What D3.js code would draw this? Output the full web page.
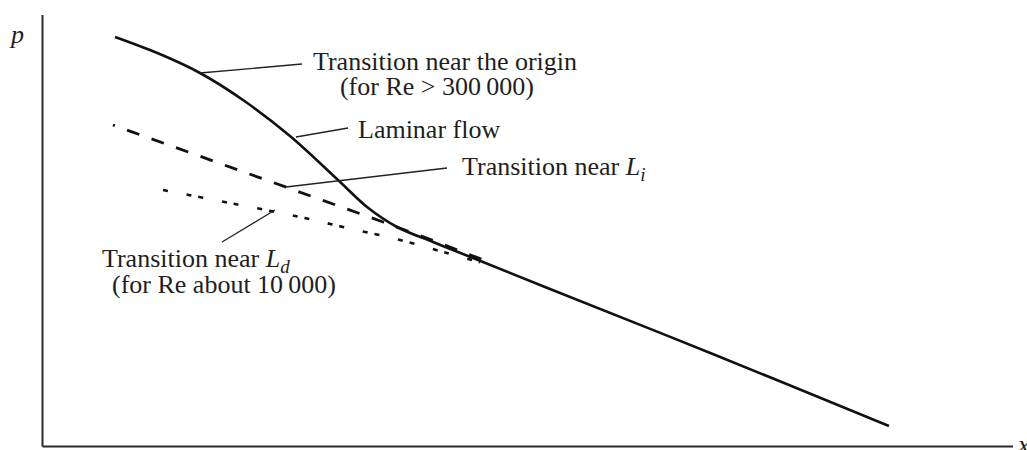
<!DOCTYPE html>
<html>
<head>
<meta charset="utf-8">
<script src="https://cdn.jsdelivr.net/npm/d3@7"></script>
<style>
  html, body { margin: 0; padding: 0; background: #fff; }
  svg { display: block; }
  text { font-family: "Liberation Serif", "DejaVu Serif", serif; fill: #1e1e1e; }
</style>
</head>
<body>
<div id="chart"></div>
<script>
// ---- Data (abstract units: x and y both 0..100 on the schematic axes) ----
const solidX = [7.47, 11.90, 16.23, 20.66, 25.50, 30.45, 33.44, 36.53, 40.24, 44.36, 52.29, 69.00, 87.22];
const solidY = [94.90, 91.12, 86.56, 80.30, 71.96, 61.76, 55.50, 50.87, 47.39, 43.68, 36.50, 21.50, 4.75];

const dashedX = [7.26, 35.09, 40.24, 46.11];
const dashedY = [74.51, 52.03, 47.74, 42.64];

const dottedX = [12.42, 19.32, 26.53, 30.96, 36.84, 41.68, 45.08];
const dottedY = [59.44, 56.43, 53.19, 50.87, 47.86, 44.84, 42.70];

// leader lines: [x1, y1, x2, y2]
const leaderNames = ["origin", "laminar", "Li", "Ld"];
const leaderX1 = [16.23, 26.12, 25.09, 23.96];
const leaderY1 = [86.56, 71.73, 60.14, 54.81];
const leaderX2 = [26.74, 31.48, 41.68, 18.50];
const leaderY2 = [88.64, 73.81, 64.54, 47.39];

// labels
const labelText = ["Transition near the origin", "(for Re > 300\u2009000)", "Laminar flow", "Transition near ", "Transition near ", "(for Re about 10\u2009000)"];
const labelSub  = [null, null, null, "i", "d", null];
const labelX = [27.87, 30.65, 32.51, 43.23, 6.13, 7.16];
const labelY = [87.25, 81.46, 71.49, 62.92, 41.60, 35.57];

const axisYLabel = "p";
const axisXLabel = "x";

// ---- Layout ----
const W = 1027, H = 450;
const x = d3.scaleLinear().domain([0, 100]).range([42.5, 1013]);
const y = d3.scaleLinear().domain([0, 100]).range([446.5, 15]);

const svg = d3.select("#chart").append("svg").attr("width", W).attr("height", H);

// axes (plain lines, no ticks)
svg.append("line")
  .attr("x1", x(0)).attr("x2", x(0)).attr("y1", y(0)).attr("y2", y(100))
  .attr("stroke", "#2a2a2a").attr("stroke-width", 2);
svg.append("line")
  .attr("x1", x(0)).attr("x2", x(100)).attr("y1", y(0)).attr("y2", y(0))
  .attr("stroke", "#2a2a2a").attr("stroke-width", 2);

svg.append("text").attr("x", 11).attr("y", 43)
  .attr("font-size", 26).attr("font-style", "italic").text(axisYLabel);
svg.append("text").attr("x", x(100) + 5).attr("y", 453)
  .attr("font-size", 26).attr("font-style", "italic").text(axisXLabel);

const zip = (xs, ys) => xs.map((v, i) => [v, ys[i]]);

const smooth = d3.line().x(d => x(d[0])).y(d => y(d[1])).curve(d3.curveCatmullRom.alpha(0.5));
const straight = d3.line().x(d => x(d[0])).y(d => y(d[1]));

// dotted (transition near Ld)
svg.append("path").attr("d", smooth(zip(dottedX, dottedY)))
  .attr("fill", "none").attr("stroke", "#111").attr("stroke-width", 2.6)
  .attr("stroke-dasharray", "5,7,5,19").attr("stroke-dashoffset", 12);

// dashed (transition near Li)
svg.append("path").attr("d", straight(zip(dashedX, dashedY)))
  .attr("fill", "none").attr("stroke", "#111").attr("stroke-width", 2.8)
  .attr("stroke-dasharray", "13,13").attr("stroke-dashoffset", 11);

// solid
svg.append("path").attr("d", smooth(zip(solidX, solidY)))
  .attr("fill", "none").attr("stroke", "#111").attr("stroke-width", 2.6)
  .attr("stroke-linecap", "butt");

// leader lines
svg.selectAll(".leader").data(leaderNames).join("line")
  .attr("class", "leader")
  .attr("x1", (d, i) => x(leaderX1[i])).attr("y1", (d, i) => y(leaderY1[i]))
  .attr("x2", (d, i) => x(leaderX2[i])).attr("y2", (d, i) => y(leaderY2[i]))
  .attr("stroke", "#222").attr("stroke-width", 1.3);

// labels
labelText.forEach((t, i) => {
  const tx = svg.append("text").attr("x", x(labelX[i])).attr("y", y(labelY[i]))
    .attr("font-size", 26);
  tx.append("tspan").text(t);
  if (labelSub[i]) {
    tx.append("tspan").attr("font-style", "italic").text("L");
    tx.append("tspan").attr("font-style", "italic").attr("font-size", 19)
      .attr("dy", 6).text(labelSub[i]);
  }
});
</script>
</body>
</html>
